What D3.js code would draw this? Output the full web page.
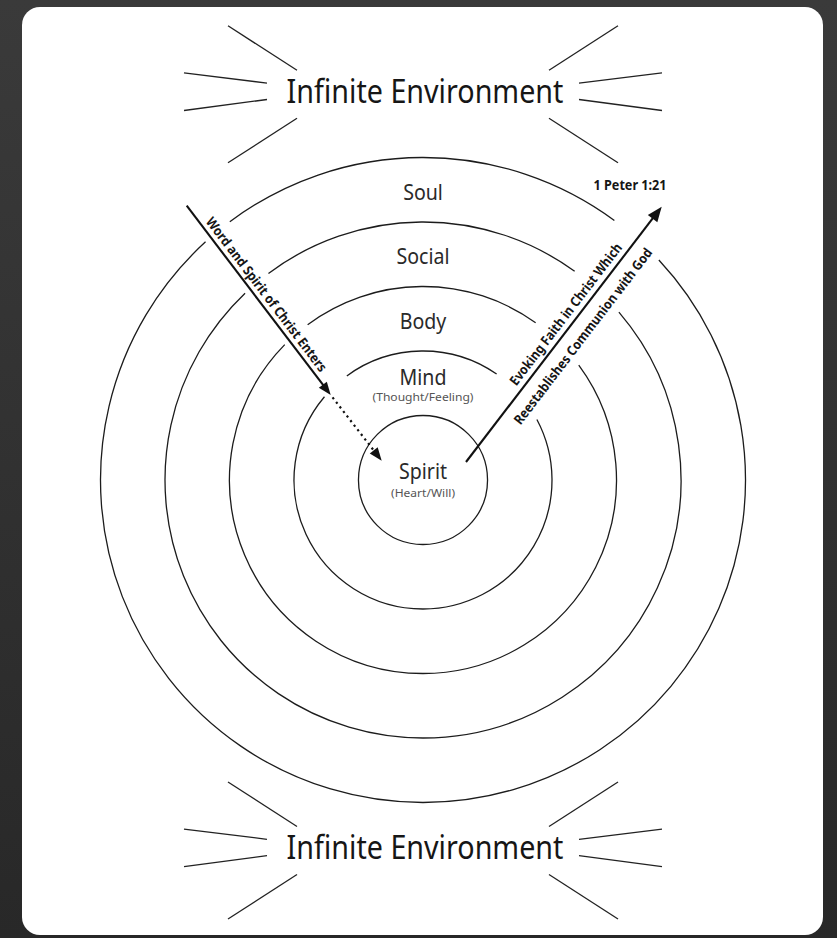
<!DOCTYPE html>
<html>
<head>
<meta charset="utf-8">
<script src="https://cdn.jsdelivr.net/npm/d3@7"></script>
<style>
  html, body { margin: 0; padding: 0; background: #2e2e2e; }
  svg { display: block; }
</style>
</head>
<body>
<svg id="chart" width="837" height="938"></svg>
<script>
// ---------------- DATA ----------------
const layers      = ["Soul", "Social", "Body", "Mind", "Spirit"];
const layerLevels = [5, 4, 3, 2, 1];
const subLabels   = ["", "", "", "(Thought/Feeling)", "(Heart/Will)"];
const titleText   = "Infinite Environment";
const citation    = "1 Peter 1:21";
const inwardText  = "Word and Spirit of Christ Enters";
const outwardAbove = "Evoking Faith in Christ Which";
const outwardBelow = "Reestablishes Communion with God";

// ---------------- LAYOUT / STYLE ----------------
const W = 837, H = 938;
const cx = 423, cy = 480;
const maxR = 322.5;
const titleCenters = [94.3, 850.5];
const titleWidth = 277;
const subWidths = [0, 0, 0, 101, 64];
const rays = [                      // relative to title centre, left side (mirrored on right)
  [[-195, -68.5], [-126, -24]],
  [[-239, -21.4], [-156, -11.2]],
  [[-239, 16.2],  [-156, 5.2]],
  [[-195, 68.5],  [-126, 24]]
];
const arrows = {                    // offsets from ring centre
  inStart: [-236.3, -274.3], inSolidEnd: [-92.3, -85], inDottedEnd: [-41.3, -19.3],
  outStart: [43, -18], outEnd: [238.7, -273.3]
};
const FONT = "'Noto Sans', 'Open Sans', 'DejaVu Sans', sans-serif";
const SX = 0.87;   // horizontal condensation of the typeface

const svg = d3.select("#chart");
const defs = svg.append("defs");
const g0 = defs.append("linearGradient").attr("id", "bg")
  .attr("x1", 0).attr("y1", 0).attr("x2", 0).attr("y2", 1);
g0.append("stop").attr("offset", "0%").attr("stop-color", "#3a3a3a");
g0.append("stop").attr("offset", "100%").attr("stop-color", "#282828");
svg.append("rect").attr("width", W).attr("height", H).attr("fill", "url(#bg)");
svg.append("rect").attr("x", 22).attr("y", 7).attr("width", 801).attr("height", 928)
  .attr("rx", 18).attr("fill", "#ffffff");

const radius = d3.scaleLinear().domain([0, 5]).range([0, maxR]);

// helper: text placed at (x,y) with horizontal squeeze; optional width fit
function addText(parent, str, x, y, opts) {
  const g = parent.append("g").attr("transform", `translate(${x},${y})`);
  const t = g.append("text")
    .attr("text-anchor", "middle")
    .attr("font-family", FONT)
    .attr("font-size", opts.size)
    .attr("font-weight", opts.weight || 400)
    .attr("fill", opts.fill || "#222")
    .text(str);
  let sx = SX;
  if (opts.width) {
    const len = t.node().getComputedTextLength();
    sx = opts.width / len;
  }
  t.attr("transform", `scale(${sx},1)`);
  return g;
}

// ---------------- ARROW GEOMETRY ----------------
const P = o => [cx + o[0], cy + o[1]];
const L0 = P(arrows.inStart), L1 = P(arrows.inSolidEnd), L2 = P(arrows.inDottedEnd);
const R0 = P(arrows.outStart), R1 = P(arrows.outEnd);
function unit(a, b) { const dx = b[0] - a[0], dy = b[1] - a[1], l = Math.hypot(dx, dy); return [dx / l, dy / l]; }
const uL = unit(L0, L1), nL = [uL[1], -uL[0]];
const uR = unit(R0, R1), nR = [uR[1], -uR[0]];
const signed = (p, a, n) => (p[0] - a[0]) * n[0] + (p[1] - a[1]) * n[1];

// ---------------- RINGS (with gaps where arrows/text cross) ----------------
const ringG = svg.append("g").attr("fill", "none").attr("stroke", "#1c1c1c").attr("stroke-width", 1.3);
layerLevels.forEach((lv, i) => {
  const r = radius(lv);
  const visible = phi => {
    if (lv === 1) return true;
    const p = [cx + r * Math.cos(phi), cy + r * Math.sin(phi)];
    if (p[0] < cx && p[1] < cy) {
      const d = signed(p, L0, nL);
      if (d > -6 && d < 24) return false;
    }
    if (p[0] > cx && p[1] < cy) {
      const d = signed(p, R0, nR);
      if (d > -30 && d < 29) return false;
    }
    return true;
  };
  const step = Math.PI / 900;
  const start = Math.PI / 2;
  const runs = [];
  let cur = null;
  for (let k = 0; k <= 1800; k++) {
    const phi = start + k * step;
    if (visible(phi)) { if (!cur) cur = [phi, phi]; else cur[1] = phi; }
    else if (cur) { runs.push(cur); cur = null; }
  }
  if (cur) runs.push(cur);
  runs.forEach(run => {
    const p = d3.path();
    p.arc(cx, cy, r, run[0], run[1]);
    ringG.append("path").attr("d", p.toString());
  });
});

// ---------------- LAYER LABELS ----------------
const labelG = svg.append("g");
layers.forEach((name, i) => {
  const lv = layerLevels[i];
  let base, subGap = 16;
  if (lv === 1) { base = cy - 1; subGap = 17.5; }
  else if (subLabels[i]) base = cy - radius(lv - 0.5) + 1.5;
  else base = cy - radius(lv - 0.5) + 10;
  addText(labelG, name, cx, base, { size: 22.5, fill: "#2a2a2a" });
  if (subLabels[i]) {
    addText(labelG, subLabels[i], cx, base + subGap, { size: 11.5, fill: "#555", width: subWidths[i] });
  }
});

// ---------------- TITLES + RAYS ----------------
const rayLine = d3.line();
titleCenters.forEach(ty => {
  const tg = svg.append("g");
  rays.forEach(seg => {
    [1, -1].forEach(s => {
      tg.append("path")
        .attr("d", rayLine(seg.map(p => [cx + s * p[0], ty + p[1]])))
        .attr("stroke", "#222").attr("stroke-width", 1.3).attr("fill", "none");
    });
  });
  addText(tg, titleText, cx + 2, ty + 8.5, { size: 33, fill: "#161616", width: titleWidth });
});

// ---------------- ARROWS ----------------
const arrowG = svg.append("g");
function head(tip, u, len, hw) {
  const b = [tip[0] - u[0] * len, tip[1] - u[1] * len];
  const n = [u[1], -u[0]];
  return d3.line()([tip, [b[0] + n[0] * hw, b[1] + n[1] * hw], [b[0] - n[0] * hw, b[1] - n[1] * hw]]) + "Z";
}
// inward solid
const hl = 13;
arrowG.append("path")
  .attr("d", d3.line()([L0, [L1[0] - uL[0] * hl * 0.8, L1[1] - uL[1] * hl * 0.8]]))
  .attr("stroke", "#111").attr("stroke-width", 2.1).attr("fill", "none");
arrowG.append("path").attr("d", head(L1, uL, hl, 5)).attr("fill", "#111");
// inward dotted
const uD = unit(L1, L2);
arrowG.append("path")
  .attr("d", d3.line()([[L1[0] + uD[0] * 3, L1[1] + uD[1] * 3], [L2[0] - uD[0] * 11, L2[1] - uD[1] * 11]]))
  .attr("stroke", "#111").attr("stroke-width", 2.2).attr("stroke-dasharray", "2.2,3.6").attr("fill", "none");
arrowG.append("path").attr("d", head(L2, uD, 13, 5)).attr("fill", "#111");
// outward
arrowG.append("path")
  .attr("d", d3.line()([R0, [R1[0] - uR[0] * 12, R1[1] - uR[1] * 12]]))
  .attr("stroke", "#111").attr("stroke-width", 2.1).attr("fill", "none");
arrowG.append("path").attr("d", head(R1, uR, 15, 6)).attr("fill", "#111");

// ---------------- ARROW TEXTS ----------------
const angL = Math.atan2(uL[1], uL[0]) * 180 / Math.PI;
const angR = Math.atan2(uR[1], uR[0]) * 180 / Math.PI;
const gl = svg.append("g").attr("transform", `translate(${L0[0]},${L0[1]}) rotate(${angL})`);
addText(gl, inwardText, 119, -5, { size: 13.5, weight: 700, fill: "#161616", width: 190 });
const gr = svg.append("g").attr("transform", `translate(${R0[0]},${R0[1]}) rotate(${angR})`);
addText(gr, outwardAbove, 178, -6, { size: 13.5, weight: 700, fill: "#161616", width: 175 });
addText(gr, outwardBelow, 171, 21, { size: 13.5, weight: 700, fill: "#161616", width: 218 });

// ---------------- CITATION ----------------
addText(svg, citation, 630, 189.5, { size: 13.5, weight: 700, fill: "#161616", width: 73 });
</script>
</body>
</html>
